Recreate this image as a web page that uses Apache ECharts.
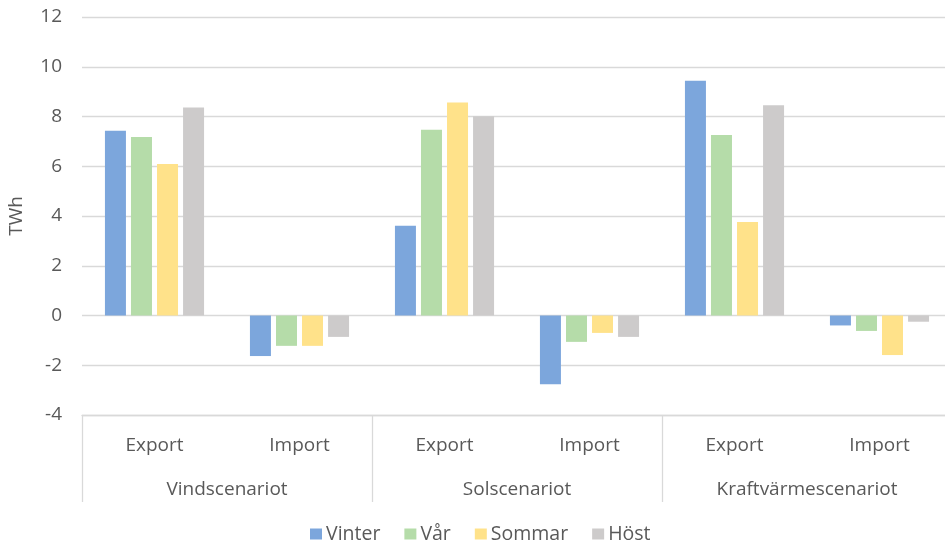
<!DOCTYPE html>
<html>
<head>
<meta charset="utf-8">
<script src="https://cdn.jsdelivr.net/npm/echarts@6/dist/echarts.min.js"></script>
<style>
  html, body { margin: 0; padding: 0; background: #fff; }
  #chart { width: 945px; height: 543px; }
</style>
</head>
<body>
<div id="chart"></div>
<script>
// Flow categories, grouped by scenario (two per scenario)
const flows = ['Export', 'Import', 'Export', 'Import', 'Export', 'Import'];
const scenarios = ['Vindscenariot', 'Solscenariot', 'Kraftvärmescenariot'];
const seasons = ['Vinter', 'Vår', 'Sommar', 'Höst'];

// TWh per season, one value per flow category
const vinter = [7.43, -1.63, 3.61, -2.76, 9.44, -0.40];
const var_ = [7.18, -1.22, 7.47, -1.06, 7.26, -0.62];
const sommar = [6.09, -1.22, 8.56, -0.70, 3.76, -1.59];
const host = [8.36, -0.86, 8.01, -0.86, 8.45, -0.25];

const yTicks = { min: -4, max: 12, interval: 2 };

const seriesValues = [vinter, var_, sommar, host];
const colors = ['#7ca6dc', '#b5dca9', '#ffe28a', '#cdcbcb'];
const textColor = '#595959';
const lineColor = '#d9d9d9';
const fontFamily = '"Open Sans", "Noto Sans", sans-serif';
const fontSize = 19;

const chart = echarts.init(document.getElementById('chart'));
chart.setOption({
  animation: false,
  color: colors,
  // plot runs slightly past the right edge of the canvas
  grid: { left: 82, right: -7, top: 17, bottom: 128, containLabel: false, outerBoundsMode: 'none' },
  legend: {
    data: seasons,
    top: 519,
    left: 305,
    icon: 'rect',
    itemWidth: 12,
    itemHeight: 11,
    itemGap: 24,
    textStyle: { color: textColor, fontSize: 19.5, fontFamily: fontFamily, padding: [0, 0, 0, -1] }
  },
  xAxis: [
    {
      type: 'category',
      data: flows,
      position: 'bottom',
      axisLine: { onZero: false, show: true, lineStyle: { color: lineColor, width: 1.3 } },
      axisTick: {
        show: true,
        alignWithLabel: false,
        interval: function (index) { return index % 2 === 0; },
        length: 87,
        lineStyle: { color: lineColor, width: 1.3 }
      },
      axisLabel: { color: textColor, fontSize: fontSize, fontFamily: fontFamily, margin: 21 }
    },
    {
      type: 'category',
      data: scenarios,
      position: 'bottom',
      axisLine: { show: false },
      axisTick: { show: false },
      axisLabel: { color: textColor, fontSize: fontSize, fontFamily: fontFamily, margin: 65 }
    }
  ],
  yAxis: {
    type: 'value',
    min: yTicks.min,
    max: yTicks.max,
    interval: yTicks.interval,
    name: 'TWh',
    nameLocation: 'middle',
    nameGap: 56,
    nameRotate: 90,
    nameTextStyle: { color: textColor, fontSize: fontSize, fontFamily: fontFamily },
    axisLine: { show: false },
    axisTick: { show: false },
    axisLabel: { color: textColor, fontSize: fontSize, fontFamily: fontFamily, margin: 20 },
    splitLine: { lineStyle: { color: lineColor, width: 1.3 } }
  },
  series: seasons.map(function (name, i) {
    return {
      name: name,
      type: 'bar',
      xAxisIndex: 0,
      data: seriesValues[i],
      barWidth: 21,
      barGap: '24%'
    };
  })
});
</script>
</body>
</html>
